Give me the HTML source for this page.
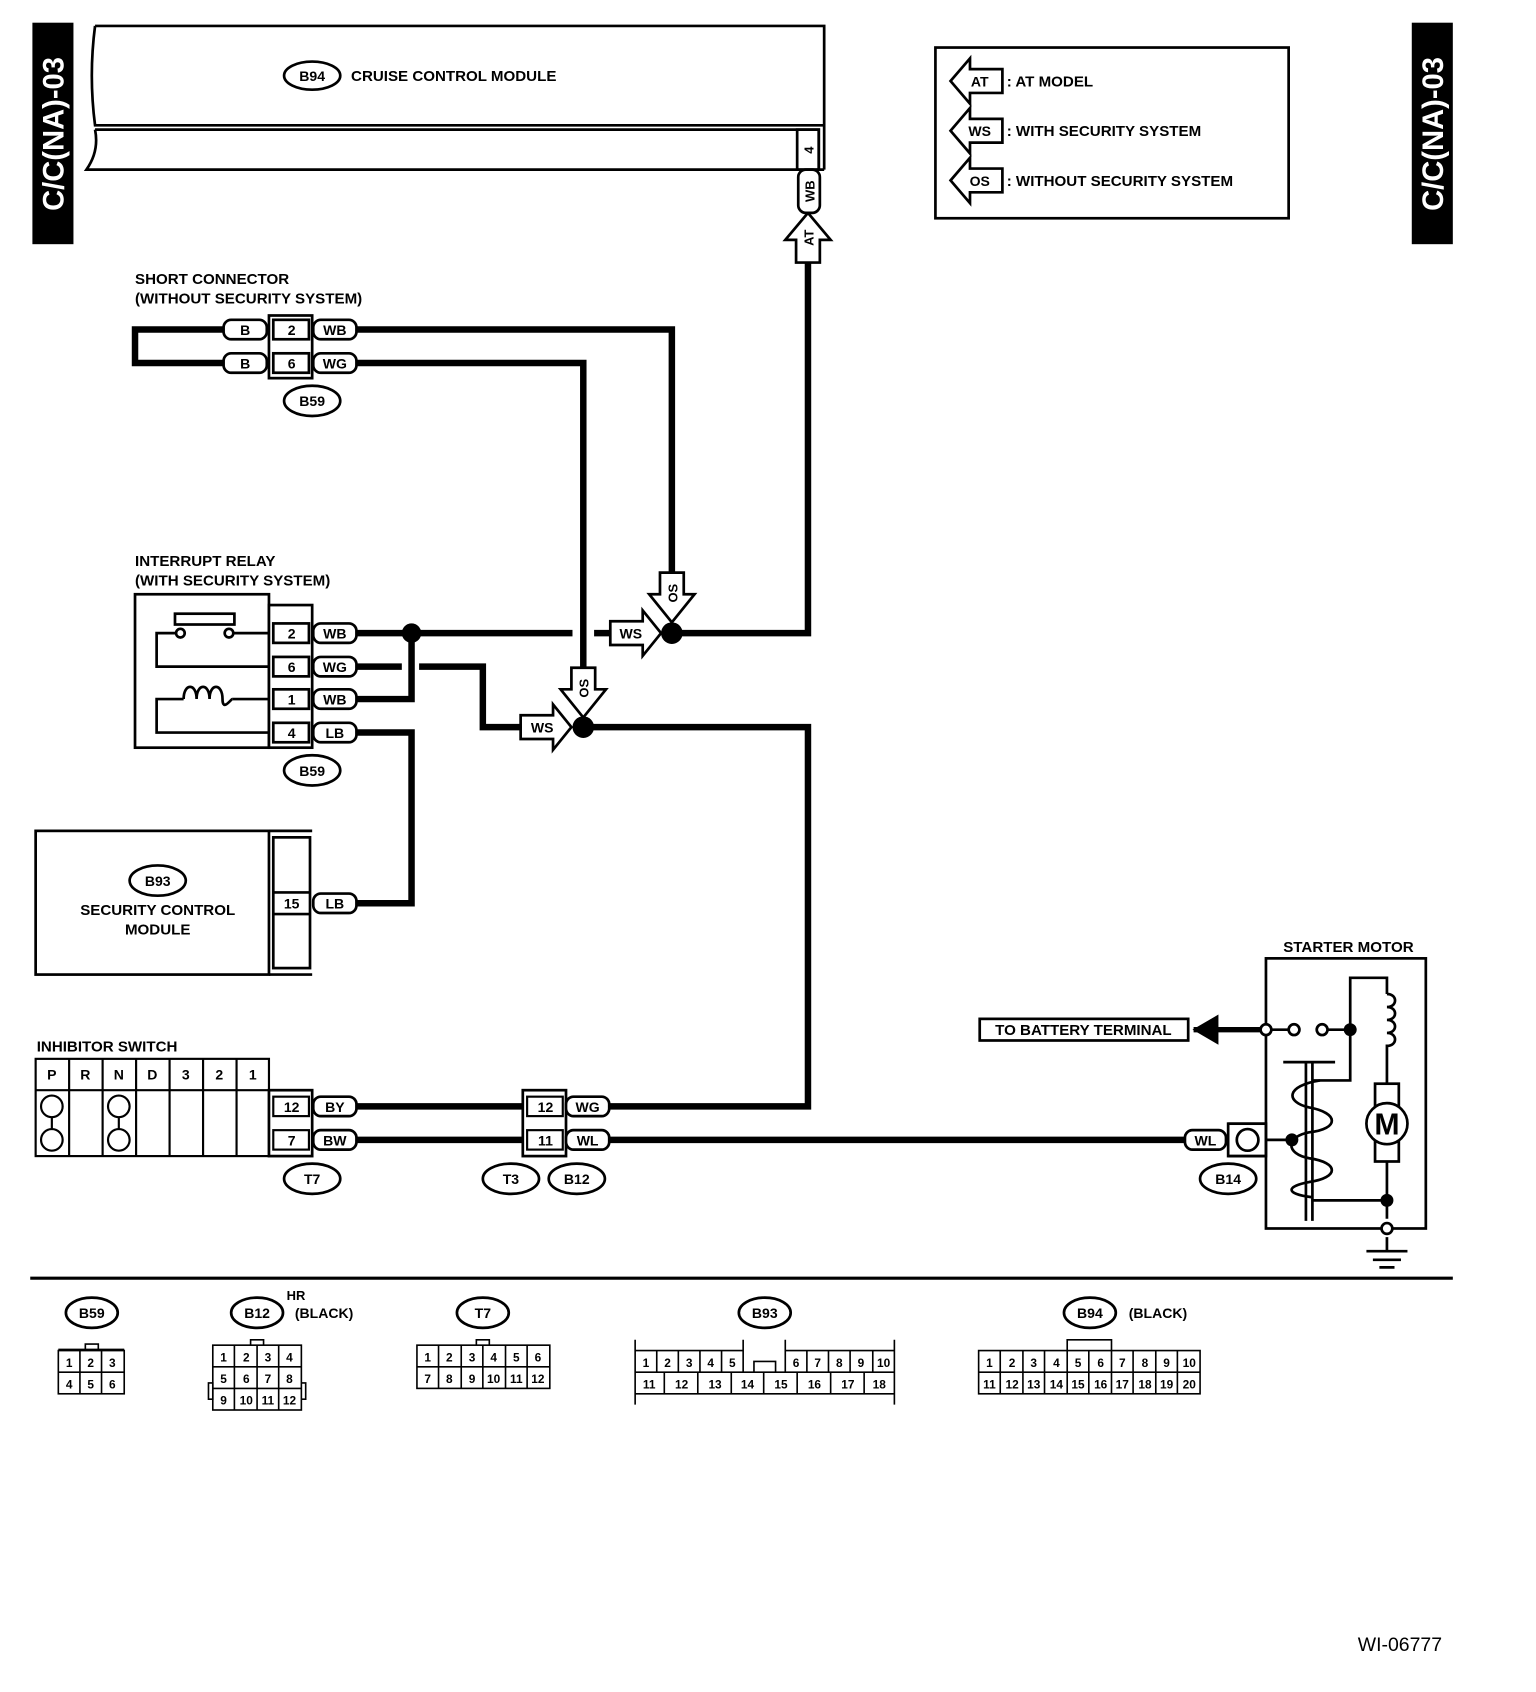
<!DOCTYPE html>
<html><head><meta charset="utf-8"><style>
html,body{margin:0;padding:0;background:#fff;}
svg{display:block;}
text{font-family:"Liberation Sans",Arial,sans-serif;font-weight:bold;fill:#000;}
</style></head><body>
<svg width="1536" height="1692" viewBox="0 0 1422 1566" preserveAspectRatio="none" xmlns="http://www.w3.org/2000/svg">
<g fill="none" stroke="#000" stroke-width="2">
<rect x="31" y="22" width="36" height="203" fill="#000"/>
<rect x="1308" y="22" width="36" height="203" fill="#000"/>
</g>
<text transform="translate(59,124) rotate(-90)" text-anchor="middle" font-size="27" style="fill:#fff">C/C(NA)-03</text>
<text transform="translate(1336,124) rotate(-90)" text-anchor="middle" font-size="27" style="fill:#fff">C/C(NA)-03</text>

<g fill="none" stroke="#000" stroke-width="2.5">
<path d="M88 24 H763 V157"/>
<path d="M88 24 Q82 70 88 116 H763"/>
<path d="M88 120 H758 V157"/>
<path d="M88 120 Q92 140 80 157 H763"/>
<rect x="738" y="120" width="20" height="37"/>
<ellipse cx="289" cy="70" rx="26" ry="13"/>
<rect x="866" y="44" width="327" height="158"/>
</g>
<text x="289" y="75" font-size="13" text-anchor="middle">B94</text>
<text x="325" y="75" font-size="14">CRUISE CONTROL MODULE</text>
<text transform="translate(753,139) rotate(-90)" font-size="12" text-anchor="middle">4</text>

<g fill="#fff" stroke="#000" stroke-width="2.5">
<polygon points="928,64 928,86 898,86 898,96 880,75 898,54 898,64"/>
<polygon points="928,110 928,132 898,132 898,142 880,121 898,100 898,110"/>
<polygon points="928,156 928,178 898,178 898,188 880,167 898,146 898,156"/>
</g>
<text x="907" y="80" font-size="13" text-anchor="middle">AT</text>
<text x="907" y="126" font-size="13" text-anchor="middle">WS</text>
<text x="907" y="172" font-size="13" text-anchor="middle">OS</text>
<text x="932" y="80" font-size="14">: AT MODEL</text>
<text x="932" y="126" font-size="14">: WITH SECURITY SYSTEM</text>
<text x="932" y="172" font-size="14">: WITHOUT SECURITY SYSTEM</text>

<g fill="none" stroke="#000" stroke-width="6">
<path d="M748 243 V586 H622"/>
<path d="M330 305 H622 V530"/>
<path d="M330 336 H540 V618"/>
<path d="M207 305 H125 V336 H207"/>
<path d="M330 586 H530 M550 586 H565"/>
<path d="M381 586 V647 H330"/>
<path d="M330 617 H372 M388 617 H447 V673 H482"/>
<path d="M540 673 H748 V1024 H564"/>
<path d="M330 678 H381 V836 H330"/>
<path d="M330 1024 H484 M330 1055 H484"/>
<path d="M564 1055 H1097"/>
<path d="M1105 953 H1172" stroke-width="5"/>
</g>
<polygon points="1104,953 1128,939 1128,967" fill="#000"/>
<circle cx="381" cy="586" r="9" fill="#000"/>
<circle cx="622" cy="586" r="10" fill="#000"/>
<circle cx="540" cy="673" r="10" fill="#000"/>

<g fill="#fff" stroke="#000" stroke-width="2.5">
<polygon points="737,243 759,243 759,222 769,222 748,197 727,222 737,222"/>
<polygon points="565,575 595,575 595,565 612,586 595,607 595,597 565,597"/>
<polygon points="482,662 512,662 512,652 529,673 512,694 512,684 482,684"/>
<polygon points="611,530 633,530 633,550 643,550 622,576 601,550 611,550"/>
<polygon points="529,618 551,618 551,638 561,638 540,664 519,638 529,638"/>
</g>
<text transform="translate(753,220) rotate(-90)" font-size="12" text-anchor="middle">AT</text>
<text transform="translate(627,549) rotate(-90)" font-size="12" text-anchor="middle">OS</text>
<text transform="translate(545,637) rotate(-90)" font-size="12" text-anchor="middle">OS</text>
<text x="584" y="591" font-size="13" text-anchor="middle">WS</text>
<text x="502" y="678" font-size="13" text-anchor="middle">WS</text>

<rect x="739" y="157" width="20" height="40" rx="7" fill="#fff" stroke="#000" stroke-width="2.5"/>
<text transform="translate(754,177) rotate(-90)" font-size="12" text-anchor="middle">WB</text>

<text x="125" y="263" font-size="14">SHORT CONNECTOR</text>
<text x="125" y="281" font-size="14">(WITHOUT SECURITY SYSTEM)</text>
<g fill="#fff" stroke="#000" stroke-width="2.5">
<rect x="249" y="292" width="40" height="58"/>
<rect x="253" y="296" width="33" height="18"/>
<rect x="253" y="327" width="33" height="18"/>
<rect x="207" y="296" width="40" height="18" rx="7"/>
<rect x="207" y="327" width="40" height="18" rx="7"/>
<rect x="290" y="296" width="40" height="18" rx="7"/>
<rect x="290" y="327" width="40" height="18" rx="7"/>
<ellipse cx="289" cy="371" rx="26" ry="14"/>
</g>
<g font-size="13" text-anchor="middle">
<text x="227" y="310">B</text><text x="227" y="341">B</text>
<text x="270" y="310">2</text><text x="270" y="341">6</text>
<text x="310" y="310">WB</text><text x="310" y="341">WG</text>
<text x="289" y="376">B59</text>
</g>

<text x="125" y="524" font-size="14">INTERRUPT RELAY</text>
<text x="125" y="542" font-size="14">(WITH SECURITY SYSTEM)</text>
<g fill="#fff" stroke="#000" stroke-width="2.5">
<rect x="125" y="550" width="124" height="142"/>
<rect x="249" y="560" width="40" height="132"/>
<rect x="253" y="577" width="33" height="18"/>
<rect x="253" y="608" width="33" height="18"/>
<rect x="253" y="638" width="33" height="18"/>
<rect x="253" y="669" width="33" height="18"/>
<rect x="290" y="577" width="40" height="18" rx="7"/>
<rect x="290" y="608" width="40" height="18" rx="7"/>
<rect x="290" y="638" width="40" height="18" rx="7"/>
<rect x="290" y="669" width="40" height="18" rx="7"/>
<ellipse cx="289" cy="713" rx="26" ry="14"/>
<rect x="162" y="568" width="55" height="10"/>
<circle cx="167" cy="586" r="4"/><circle cx="212" cy="586" r="4"/>
<path d="M163 586 H145 V617 H249 M216 586 H249" fill="none"/>
<path d="M249 647 H215 M170 647 H145 V678 H249" fill="none"/>
<path d="M170 647 c0 -15 12 -15 12 0 c0 -15 12 -15 12 0 c0 -15 12 -15 12 0 c0 12 8 0 9 0" fill="none"/>
</g>
<g font-size="13" text-anchor="middle">
<text x="270" y="591">2</text><text x="270" y="622">6</text><text x="270" y="652">1</text><text x="270" y="683">4</text>
<text x="310" y="591">WB</text><text x="310" y="622">WG</text><text x="310" y="652">WB</text><text x="310" y="683">LB</text>
<text x="289" y="718">B59</text>
</g>

<g fill="#fff" stroke="#000" stroke-width="2.5">
<rect x="33" y="769" width="216" height="133"/>
<path d="M249 769 H289 M249 902 H289" fill="none"/>
<rect x="253" y="775" width="34" height="121"/>
<path d="M253 826 H287 M253 846 H287" fill="none"/>
<rect x="290" y="827" width="40" height="18" rx="7"/>
<ellipse cx="146" cy="815" rx="26" ry="14"/>
</g>
<g font-size="13" text-anchor="middle">
<text x="270" y="841">15</text><text x="310" y="841">LB</text>
<text x="146" y="820">B93</text>
<text x="146" y="847" font-size="14">SECURITY CONTROL</text>
<text x="146" y="865" font-size="14">MODULE</text>
</g>

<text x="34" y="973" font-size="14">INHIBITOR SWITCH</text>
<g fill="#fff" stroke="#000" stroke-width="2">
<rect x="33" y="980" width="216" height="90"/>
<path d="M33 1009 H249 M64 980 V1070 M95 980 V1070 M126 980 V1070 M157 980 V1070 M188 980 V1070 M219 980 V1070" fill="none"/>
<circle cx="48" cy="1024" r="10"/><circle cx="48" cy="1055" r="10"/>
<circle cx="110" cy="1024" r="10"/><circle cx="110" cy="1055" r="10"/>
<path d="M48 1034 V1045 M110 1034 V1045" fill="none"/>
<rect x="249" y="1009" width="40" height="61" stroke-width="2.5"/>
<rect x="253" y="1015" width="33" height="18"/>
<rect x="253" y="1046" width="33" height="18"/>
<rect x="290" y="1015" width="40" height="18" rx="7" stroke-width="2.5"/>
<rect x="290" y="1046" width="40" height="18" rx="7" stroke-width="2.5"/>
<ellipse cx="289" cy="1091" rx="26" ry="14" stroke-width="2.5"/>
<rect x="484" y="1009" width="40" height="61" stroke-width="2.5"/>
<rect x="488" y="1015" width="33" height="18"/>
<rect x="488" y="1046" width="33" height="18"/>
<rect x="524" y="1015" width="40" height="18" rx="7" stroke-width="2.5"/>
<rect x="524" y="1046" width="40" height="18" rx="7" stroke-width="2.5"/>
<ellipse cx="473" cy="1091" rx="26" ry="14" stroke-width="2.5"/>
<ellipse cx="534" cy="1091" rx="26" ry="14" stroke-width="2.5"/>
<rect x="1097" y="1046" width="38" height="18" rx="7" stroke-width="2.5"/>
<rect x="1137" y="1040" width="35" height="30" stroke-width="2.5"/>
<circle cx="1155" cy="1055" r="10" stroke-width="2.5"/>
<ellipse cx="1137" cy="1091" rx="26" ry="14" stroke-width="2.5"/>
</g>
<g font-size="13" text-anchor="middle">
<text x="48" y="999">P</text><text x="79" y="999">R</text><text x="110" y="999">N</text><text x="141" y="999">D</text><text x="172" y="999">3</text><text x="203" y="999">2</text><text x="234" y="999">1</text>
<text x="270" y="1029">12</text><text x="270" y="1060">7</text>
<text x="310" y="1029">BY</text><text x="310" y="1060">BW</text>
<text x="289" y="1096">T7</text>
<text x="505" y="1029">12</text><text x="505" y="1060">11</text>
<text x="544" y="1029">WG</text><text x="544" y="1060">WL</text>
<text x="473" y="1096">T3</text><text x="534" y="1096">B12</text>
<text x="1116" y="1060">WL</text>
<text x="1137" y="1096">B14</text>
</g>

<text x="1188" y="881" font-size="14">STARTER MOTOR</text>
<rect x="907" y="943" width="193" height="20" fill="#fff" stroke="#000" stroke-width="2.5"/>
<text x="1003" y="958" font-size="14" text-anchor="middle">TO BATTERY TERMINAL</text>
<g fill="none" stroke="#000" stroke-width="2.5">
<rect x="1172" y="887" width="148" height="250"/>
<path d="M1176 953 H1194 M1228 953 H1250 M1250 953 V1000 H1215 M1250 953 V905 H1284 V920"/>
<path d="M1284 920 c10 0 10 12 0 12 c10 0 10 12 0 12 c10 0 10 12 0 12 c10 0 10 12 0 12 V1003"/>
<rect x="1273" y="1003" width="22" height="72"/>
<circle cx="1284" cy="1040" r="19" fill="#fff"/>
<path d="M1284 1075 V1128 M1214 1111 H1284 M1284 1145 V1158 M1265 1158 H1303 M1271 1166 H1297 M1277 1173 H1291"/>
<path d="M1188 983 H1236 M1209 983 V1130 M1215 983 V1130"/>
<path d="M1222 1000 C1190 1005 1190 1020 1212 1025 C1240 1030 1240 1045 1212 1048 C1190 1052 1190 1068 1212 1072 C1240 1076 1240 1090 1212 1094 C1190 1098 1190 1105 1214 1108"/>
<path d="M1172 1055 H1196"/>
<path d="M1137 1040 H1172 M1137 1070 H1172"/>
</g>
<g fill="#fff" stroke="#000" stroke-width="2.5">
<circle cx="1172" cy="953" r="5"/><circle cx="1198" cy="953" r="5"/><circle cx="1224" cy="953" r="5"/><circle cx="1284" cy="1137" r="5"/>
</g>
<circle cx="1250" cy="953" r="6" fill="#000"/>
<circle cx="1196" cy="1055" r="6" fill="#000"/>
<circle cx="1284" cy="1111" r="6" fill="#000"/>
<text x="1284" y="1050" font-size="28" text-anchor="middle">M</text>

<line x1="28" y1="1183" x2="1345" y2="1183" stroke="#000" stroke-width="3"/>

<g fill="#fff" stroke="#000" stroke-width="2.5">
<ellipse cx="85" cy="1215" rx="24" ry="14"/>
<ellipse cx="238" cy="1215" rx="24" ry="14"/>
<ellipse cx="447" cy="1215" rx="24" ry="14"/>
<ellipse cx="708" cy="1215" rx="24" ry="14"/>
<ellipse cx="1009" cy="1215" rx="24" ry="14"/>
</g>
<g fill="none" stroke="#000" stroke-width="1.5">
<rect x="54" y="1250" width="61" height="40"/><path d="M54 1249 H115 M74 1250 V1290 M94 1250 V1290 M54 1270 H115 M79 1249 V1244 H91 V1249"/>
<rect x="197" y="1245" width="82" height="60"/><path d="M197 1265 H279 M197 1285 H279 M217 1245 V1305 M238 1245 V1305 M258 1245 V1305 M193 1280 H197 V1295 H193 Z M279 1280 H283 V1295 H279 M232 1245 V1240 H244 V1245"/>
<rect x="386" y="1245" width="123" height="40"/><path d="M386 1265 H509 M406 1245 V1285 M427 1245 V1285 M447 1245 V1285 M468 1245 V1285 M488 1245 V1285 M441 1245 V1240 H453 V1245"/>
<path d="M588 1240 V1300 M828 1240 V1300 M588 1250 H688 V1270 M688 1250 V1240 M727 1240 V1250 H828 M588 1270 H828 M588 1290 H828 M608 1250 V1270 M628 1250 V1270 M648 1250 V1270 M668 1250 V1270 M747 1250 V1270 M767 1250 V1270 M787 1250 V1270 M808 1250 V1270 M698 1270 V1260 H718 V1270 M615 1270 V1290 M646 1270 V1290 M677 1270 V1290 M707 1270 V1290 M738 1270 V1290 M769 1270 V1290 M800 1270 V1290 M727 1250 V1270"/>
<rect x="906" y="1250" width="205" height="40"/><path d="M906 1270 H1111 M926 1250 V1290 M947 1250 V1290 M967 1250 V1290 M988 1250 V1290 M1008 1250 V1290 M1029 1250 V1290 M1049 1250 V1290 M1070 1250 V1290 M1090 1250 V1290 M988 1250 V1240 H1029 V1250"/>
</g>
<g font-size="13" text-anchor="middle">
<text x="85" y="1220">B59</text><text x="238" y="1220">B12</text><text x="447" y="1220">T7</text><text x="708" y="1220">B93</text><text x="1009" y="1220">B94</text>
<text x="274" y="1203" font-size="12">HR</text><text x="300" y="1220" font-size="13">(BLACK)</text><text x="1072" y="1220">(BLACK)</text>
</g>
<g font-size="11" text-anchor="middle" style="font-weight:normal">
<text x="64" y="1265">1</text><text x="84" y="1265">2</text><text x="104" y="1265">3</text>
<text x="64" y="1285">4</text><text x="84" y="1285">5</text><text x="104" y="1285">6</text>
<text x="207" y="1260">1</text><text x="228" y="1260">2</text><text x="248" y="1260">3</text><text x="268" y="1260">4</text>
<text x="207" y="1280">5</text><text x="228" y="1280">6</text><text x="248" y="1280">7</text><text x="268" y="1280">8</text>
<text x="207" y="1300">9</text><text x="228" y="1300">10</text><text x="248" y="1300">11</text><text x="268" y="1300">12</text>
<text x="396" y="1260">1</text><text x="416" y="1260">2</text><text x="437" y="1260">3</text><text x="457" y="1260">4</text><text x="478" y="1260">5</text><text x="498" y="1260">6</text>
<text x="396" y="1280">7</text><text x="416" y="1280">8</text><text x="437" y="1280">9</text><text x="457" y="1280">10</text><text x="478" y="1280">11</text><text x="498" y="1280">12</text>
<text x="598" y="1265">1</text><text x="618" y="1265">2</text><text x="638" y="1265">3</text><text x="658" y="1265">4</text><text x="678" y="1265">5</text>
<text x="737" y="1265">6</text><text x="757" y="1265">7</text><text x="777" y="1265">8</text><text x="797" y="1265">9</text><text x="818" y="1265">10</text>
<text x="601" y="1285">11</text><text x="631" y="1285">12</text><text x="662" y="1285">13</text><text x="692" y="1285">14</text><text x="723" y="1285">15</text><text x="754" y="1285">16</text><text x="785" y="1285">17</text><text x="814" y="1285">18</text>
<text x="916" y="1265">1</text><text x="937" y="1265">2</text><text x="957" y="1265">3</text><text x="978" y="1265">4</text><text x="998" y="1265">5</text><text x="1019" y="1265">6</text><text x="1039" y="1265">7</text><text x="1060" y="1265">8</text><text x="1080" y="1265">9</text><text x="1101" y="1265">10</text>
<text x="916" y="1285">11</text><text x="937" y="1285">12</text><text x="957" y="1285">13</text><text x="978" y="1285">14</text><text x="998" y="1285">15</text><text x="1019" y="1285">16</text><text x="1039" y="1285">17</text><text x="1060" y="1285">18</text><text x="1080" y="1285">19</text><text x="1101" y="1285">20</text>
</g>
<text x="1257" y="1528" font-size="18" style="font-weight:normal">WI-06777</text>
</svg>
</body></html>
